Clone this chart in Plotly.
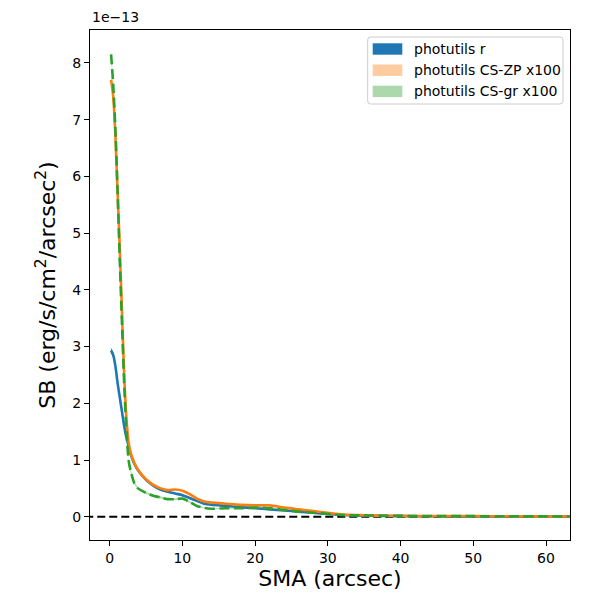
import plotly.graph_objects as go

# surface brightness profiles, values in units of 1e-13 erg/s/cm^2/arcsec^2
sma = [0.2, 0.5, 0.8, 1.1, 1.4, 1.7, 2.0, 2.3, 2.6, 2.9, 3.4, 3.9, 5.0, 6.0, 7.0,
       8.0, 9.0, 10.0, 11.0, 12.0, 13.0, 14.0, 16.0, 18.0, 20.0, 22.0, 24.0, 26.0,
       28.0, 30.0, 32.0, 34.0, 37.0, 40.0, 45.0, 50.0, 55.0, 60.0, 64.0]

sb_r = [2.93, 2.85, 2.65, 2.35, 2.1, 1.85, 1.6, 1.4, 1.25, 1.1, 0.93, 0.82, 0.65,
        0.55, 0.48, 0.44, 0.41, 0.38, 0.33, 0.28, 0.23, 0.21, 0.19, 0.17, 0.15,
        0.13, 0.11, 0.09, 0.07, 0.05, 0.03, 0.02, 0.015, 0.01, 0.008, 0.006,
        0.004, 0.003, 0.002]
err_r = [0.05, 0.05, 0.05, 0.05, 0.04, 0.04, 0.04, 0.03, 0.03, 0.03, 0.02, 0.02,
         0.02, 0.02, 0.02, 0.015, 0.015, 0.015, 0.015, 0.015, 0.01, 0.01, 0.01,
         0.01, 0.01, 0.01, 0.01, 0.01, 0.01, 0.008, 0.008, 0.008, 0.006, 0.006,
         0.005, 0.005, 0.005, 0.005, 0.005]

sb_zp = [7.7, 7.4, 6.7, 5.7, 4.7, 3.6, 2.5, 1.75, 1.32, 1.12, 0.95, 0.83, 0.66,
         0.56, 0.5, 0.47, 0.48, 0.46, 0.40, 0.32, 0.27, 0.25, 0.23, 0.21, 0.20,
         0.20, 0.16, 0.13, 0.10, 0.07, 0.04, 0.03, 0.02, 0.015, 0.012, 0.01,
         0.008, 0.005, 0.003]
err_zp = [0.06, 0.06, 0.06, 0.05, 0.05, 0.05, 0.04, 0.04, 0.03, 0.03, 0.02, 0.02,
          0.02, 0.02, 0.02, 0.015, 0.015, 0.015, 0.015, 0.015, 0.01, 0.01, 0.01,
          0.01, 0.01, 0.01, 0.01, 0.01, 0.01, 0.008, 0.008, 0.008, 0.006, 0.006,
          0.005, 0.005, 0.005, 0.005, 0.005]

sb_gr = [8.15, 7.6, 6.8, 5.7, 4.5, 3.4, 2.35, 1.55, 1.0, 0.8, 0.59, 0.50, 0.42,
         0.37, 0.34, 0.31, 0.31, 0.32, 0.26, 0.19, 0.155, 0.14, 0.15, 0.15, 0.16,
         0.15, 0.12, 0.09, 0.07, 0.05, 0.03, 0.025, 0.02, 0.015, 0.012, 0.01,
         0.008, 0.006, 0.004]
err_gr = [0.07, 0.07, 0.06, 0.06, 0.05, 0.05, 0.04, 0.04, 0.03, 0.03, 0.02, 0.02,
          0.02, 0.02, 0.02, 0.015, 0.015, 0.015, 0.015, 0.015, 0.01, 0.01, 0.01,
          0.01, 0.01, 0.01, 0.01, 0.01, 0.01, 0.008, 0.008, 0.008, 0.006, 0.006,
          0.005, 0.005, 0.005, 0.005, 0.005]

labels = ["photutils r", "photutils CS-ZP x100", "photutils CS-gr x100"]
line_colors = ["#1f77b4", "#ff7f0e", "#2ca02c"]
fill_colors = ["rgba(31,119,180,1.0)", "rgba(255,127,14,0.4)", "rgba(44,160,44,0.4)"]
dashes = ["solid", "solid", "10px,4.5px"]
values = [sb_r, sb_zp, sb_gr]
errors = [err_r, err_zp, err_gr]

fig = go.Figure()

# error bands, like fill_between
for name, vals, errs, fc in zip(labels, values, errors, fill_colors):
    upper = [v + e for v, e in zip(vals, errs)]
    lower = [v - e for v, e in zip(vals, errs)]
    fig.add_trace(go.Scatter(
        x=sma + sma[::-1], y=upper + lower[::-1],
        fill="toself", fillcolor=fc, mode="none",
        name=name, hoverinfo="skip", showlegend=False,
    ))

# zero line
fig.add_trace(go.Scatter(
    x=[-5, 70], y=[0, 0], mode="lines",
    line=dict(color="black", width=2, dash="8px,4px"),
    showlegend=False,
))

for name, vals, col, dash in zip(labels, values, line_colors, dashes):
    fig.add_trace(go.Scatter(
        x=sma, y=vals, mode="lines", name=name,
        line=dict(color=col, width=2.6, dash=dash, shape="spline", smoothing=0.6),
        showlegend=False,
    ))

# matplotlib-style legend drawn in paper coords (plot area: 480x510 px)
W, H = 480.0, 510.0
def px(x):
    return x / W
def py(y):
    return 1 - y / H

shapes = []
x0, x1, y0, y1, r = 277.7, 473.0, 7.0, 74.0, 3.0
shapes.append(dict(
    type="path", xref="paper", yref="paper",
    path=(f"M {px(x0 + r)},{py(y0)} L {px(x1 - r)},{py(y0)} Q {px(x1)},{py(y0)} {px(x1)},{py(y0 + r)} "
          f"L {px(x1)},{py(y1 - r)} Q {px(x1)},{py(y1)} {px(x1 - r)},{py(y1)} "
          f"L {px(x0 + r)},{py(y1)} Q {px(x0)},{py(y1)} {px(x0)},{py(y1 - r)} "
          f"L {px(x0)},{py(y0 + r)} Q {px(x0)},{py(y0)} {px(x0 + r)},{py(y0)} Z"),
    line=dict(color="#cccccc", width=1), fillcolor="rgba(255,255,255,0.8)",
))
annotations = []
for i, (name, fc) in enumerate(zip(labels, fill_colors)):
    yc = 19.0 + 21.2 * i
    shapes.append(dict(type="rect", xref="paper", yref="paper",
                       x0=px(282.7), x1=px(312.3), y0=py(yc - 5.7), y1=py(yc + 5.7),
                       line=dict(width=0), fillcolor=fc))
    annotations.append(dict(text=name, x=px(322), y=py(yc), xref="paper", yref="paper",
                            xanchor="left", yanchor="middle", showarrow=False,
                            font=dict(family="DejaVu Sans", size=14, color="black")))

annotations.append(dict(text="1e\u221213", x=0, y=1.005, xref="paper", yref="paper",
                        xanchor="left", yanchor="bottom", showarrow=False,
                        font=dict(family="DejaVu Sans", size=14, color="black")))

axis_common = dict(
    showline=True, mirror=True, linecolor="black", linewidth=1,
    ticks="outside", ticklen=5, tickcolor="black", showgrid=False, zeroline=False,
    tickfont=dict(family="DejaVu Sans", size=14, color="black"),
)

fig.update_layout(
    width=600, height=600,
    margin=dict(l=82, r=38, t=22, b=68),
    plot_bgcolor="white", paper_bgcolor="white",
    font=dict(family="DejaVu Sans", color="black"),
    xaxis=dict(range=[-2.7, 63.3], tickvals=[0, 10, 20, 30, 40, 50, 60],
               title=dict(text="SMA (arcsec)", font=dict(size=22), standoff=4),
               **axis_common),
    yaxis=dict(range=[-0.41, 8.58], tickvals=[0, 1, 2, 3, 4, 5, 6, 7, 8],
               title=dict(text="SB (erg/s/cm<sup>2</sup>/arcsec<sup>2</sup>)",
                          font=dict(size=22), standoff=10),
               **axis_common),
    shapes=shapes,
    annotations=annotations,
)

fig.write_html("out.html")
